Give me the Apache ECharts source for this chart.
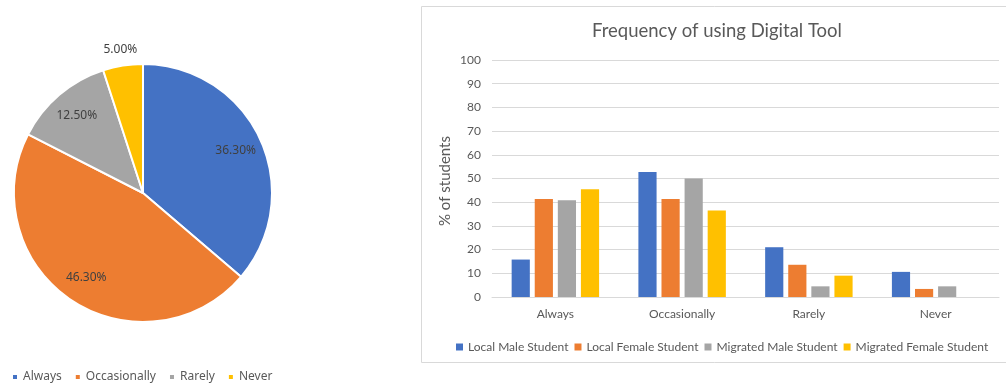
<!DOCTYPE html>
<html>
<head>
<meta charset="UTF-8">
<title>Frequency of using Digital Tool</title>
<script src="https://cdn.jsdelivr.net/npm/echarts@6/dist/echarts.min.js"></script>
<style>
  html, body { margin: 0; background: #fff; }
  #main { width: 1006px; height: 385px; }
</style>
</head>
<body>
<div id="main"></div>
<script>
// pie: overall frequency
var pieNames = ['Always', 'Occasionally', 'Rarely', 'Never'];
var pieShares = [36.3, 46.3, 12.5, 5.0];

// bars: % of students by group
var categories = ['Always', 'Occasionally', 'Rarely', 'Never'];
var groupNames = ['Local Male Student', 'Local Female Student', 'Migrated Male Student', 'Migrated Female Student'];
var localMale = [15.8, 52.7, 21.0, 10.6];
var localFemale = [41.4, 41.4, 13.6, 3.4];
var migratedMale = [40.8, 50.0, 4.5, 4.5];
var migratedFemale = [45.5, 36.5, 9.0, 0];
var yMin = 0, yMax = 100, yStep = 10;

var colors = ['#4472C4', '#ED7D31', '#A5A5A5', '#FFC000'];
var txt = '#595959';
var barFont = 'Lato';
var pieFont = 'Noto Sans';

var chart = echarts.init(document.getElementById('main'), null, { renderer: 'canvas' });

function pieData(showIdx) {
  return pieNames.map(function (n, i) {
    return {
      name: n,
      value: pieShares[i],
      label: { show: showIdx.indexOf(i) >= 0 }
    };
  });
}

var labelSeriesBase = {
  type: 'pie',
  center: [143, 193],
  startAngle: 90,
  silent: true,
  animation: false,
  itemStyle: { color: 'transparent', borderWidth: 0 },
  label: {
    position: 'inside',
    formatter: function (p) { return p.value.toFixed(2) + '%'; },
    color: '#404040',
    fontFamily: pieFont,
    fontSize: 12
  },
  labelLine: { show: false },
  emphasis: { disabled: true },
  tooltip: { show: false }
};

var barSeries = [localMale, localFemale, migratedMale, migratedFemale].map(function (vals, i) {
  return {
    name: groupNames[i],
    type: 'bar',
    data: vals,
    barGap: '27%',
    barCategoryGap: '31%',
    itemStyle: { color: colors[i] },
    animation: false
  };
});

var option = {
  color: colors,
  animation: false,
  title: {
    text: 'Frequency of using Digital Tool',
    left: 717,
    top: 22,
    padding: 0,
    textAlign: 'center',
    textStyle: { fontFamily: barFont, fontSize: 18.5, fontWeight: 'normal', color: txt }
  },
  graphic: [{
    type: 'rect',
    z: -10,
    shape: { x: 421.5, y: 6.5, width: 700, height: 356 },
    style: { fill: 'none', stroke: '#D9D9D9', lineWidth: 1 }
  }],
  legend: [{
    data: pieNames,
    left: 6,
    top: 366,
    icon: 'rect',
    itemWidth: 6,
    itemHeight: 6,
    itemGap: 12,
    textStyle: { fontFamily: pieFont, fontSize: 12, color: txt }
  }, {
    data: groupNames,
    left: 451,
    top: 336,
    width: 560,
    icon: 'rect',
    itemWidth: 7,
    itemHeight: 7,
    itemGap: 6,
    textStyle: { fontFamily: barFont, fontSize: 12, color: txt }
  }],
  grid: { left: 492, right: 7, top: 60, bottom: 88, containLabel: false },
  xAxis: {
    type: 'category',
    data: categories,
    axisLine: { lineStyle: { color: '#D9D9D9' } },
    axisTick: { show: false },
    axisLabel: { color: txt, fontFamily: barFont, fontSize: 12, margin: 11 }
  },
  yAxis: {
    type: 'value',
    min: yMin,
    max: yMax,
    interval: yStep,
    name: '% of students',
    nameLocation: 'middle',
    nameGap: 39,
    nameMoveOverlap: false,
    nameTextStyle: { color: txt, fontFamily: barFont, fontSize: 15, padding: [0, 5, 0, 0] },
    axisLine: { show: false },
    axisTick: { show: false },
    splitLine: { lineStyle: { color: '#D9D9D9' } },
    axisLabel: { color: txt, fontFamily: barFont, fontSize: 12, margin: 11 }
  },
  series: [{
    name: 'share',
    type: 'pie',
    center: [143, 193],
    radius: 129,
    startAngle: 90,
    clockwise: true,
    data: pieData([]),
    itemStyle: { borderColor: '#fff', borderWidth: 2 },
    label: { show: false },
    labelLine: { show: false },
    emphasis: { disabled: true }
  },
  Object.assign({}, labelSeriesBase, { name: 'inner labels', radius: [70, 128], data: pieData([0, 1, 2]) }),
  Object.assign({}, labelSeriesBase, { name: 'outer labels', radius: [132, 152], data: pieData([3]) })
  ].concat(barSeries)
};

chart.setOption(option);
</script>
</body>
</html>
